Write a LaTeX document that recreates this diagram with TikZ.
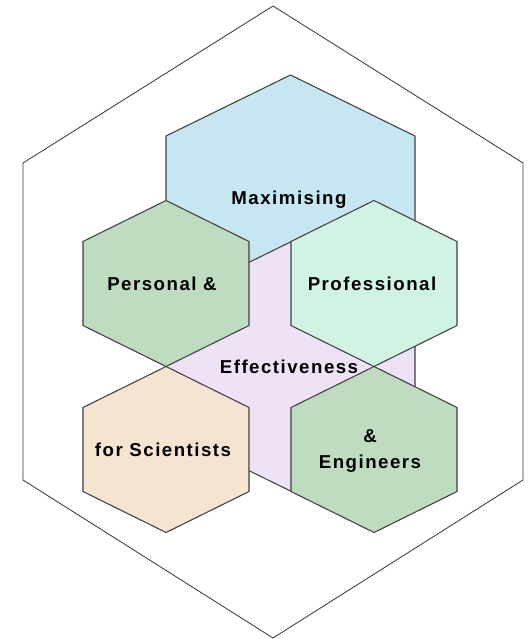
\documentclass[tikz,border=0pt]{standalone}
\usepackage{fontspec}
\newfontfamily\cellfont{Liberation Sans}[LetterSpace=8]
\definecolor{topblue}{RGB}{198,231,241}
\definecolor{midlilac}{RGB}{238,227,246}
\definecolor{sagegreen}{RGB}{191,219,192}
\definecolor{paleMint}{RGB}{208,243,227}
\definecolor{peach}{RGB}{245,228,210}

\begin{document}
\begin{tikzpicture}[x = 0.75pt, y = -0.75pt,
    cell/.style = {draw = black!75, line width = 0.8pt, line join = miter},
    lbl/.style = {font = \cellfont\bfseries\fontsize{14}{20}\selectfont, align = center, inner sep = 0pt}]
    \useasboundingbox (0,0) rectangle (530,639);
    % outer frame
    \draw[black!80, line width = 0.6pt]
    (273,6) -- (523,163) -- (523,480) -- (273,638) -- (23,480) -- (23,163) -- cycle;
    % large cells
    \draw[cell, fill = topblue]
    (290.5,75) -- ++(124.5,61) -- ++(0,127) -- ++(-124.5,61) -- ++(-124.5,-61) -- ++(0,-127) -- cycle;
    \draw[cell, fill = midlilac]
    (290.5,242) -- ++(124.5,61) -- ++(0,127) -- ++(-124.5,61) -- ++(-124.5,-61) -- ++(0,-127) -- cycle;
    % small cells
    \draw[cell, fill = sagegreen]
    (166,200.5) -- ++(83,41) -- ++(0,84) -- ++(-83,41) -- ++(-83,-41) -- ++(0,-84) -- cycle;
    \draw[cell, fill = paleMint]
    (374,200.5) -- ++(83,41) -- ++(0,84) -- ++(-83,41) -- ++(-83,-41) -- ++(0,-84) -- cycle;
    \draw[cell, fill = peach]
    (166,366.5) -- ++(83,41) -- ++(0,84) -- ++(-83,41) -- ++(-83,-41) -- ++(0,-84) -- cycle;
    \draw[cell, fill = sagegreen]
    (374,366.5) -- ++(83,41) -- ++(0,84) -- ++(-83,41) -- ++(-83,-41) -- ++(0,-84) -- cycle;
    % labels
    \node[lbl] (maxim) at (289,199.5) {Maximising};
    \node[lbl] (personal) at (162,283.5) {Personal \&};
    \node[lbl] (profess) at (372,283.5) {Professional};
    \node[lbl] (effect) at (289,366.5) {Effectiveness};
    \node[lbl] (scient) at (163,449.5) {for Scientists};
    \node[lbl] (engin) at (370,451) {\&\\Engineers};
\end{tikzpicture}
\end{document}
